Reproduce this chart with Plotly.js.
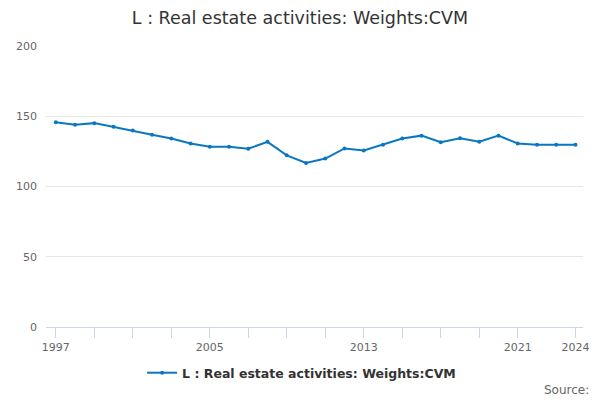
<!DOCTYPE html>
<html>
<head>
<meta charset="utf-8">
<script src="https://cdn.plot.ly/plotly-3.0.1.min.js"></script>
<style>
  html, body { margin: 0; padding: 0; background: #fff; }
  #chart { width: 600px; height: 400px; }
</style>
</head>
<body>
<div id="chart"></div>
<script>
const years = [1997, 1998, 1999, 2000, 2001, 2002, 2003, 2004, 2005, 2006,
  2007, 2008, 2009, 2010, 2011, 2012, 2013, 2014, 2015, 2016,
  2017, 2018, 2019, 2020, 2021, 2022, 2023, 2024];
const weights = [145.8, 143.9, 145.1, 142.5, 139.9, 136.9, 134.1, 130.6, 128.3, 128.3,
  126.9, 131.8, 122.2, 116.8, 119.9, 127.1, 125.7, 129.7, 134.1, 136.2,
  131.5, 134.3, 131.8, 136.2, 130.6, 129.7, 129.7, 129.7];
const tickYears = [1997, 1999, 2001, 2003, 2005, 2007, 2009, 2011, 2013,
  2015, 2017, 2019, 2021, 2024];
const labelledYears = [1997, 2005, 2013, 2021, 2024];
const seriesName = 'L : Real estate activities: Weights:CVM';

const trace = {
  x: years,
  y: weights,
  name: seriesName,
  type: 'scatter',
  mode: 'lines+markers',
  line: {color: '#0a77c2', width: 2},
  marker: {color: '#0a77c2', size: 4},
  hoverinfo: 'x+y'
};

const layout = {
  width: 600,
  height: 400,
  margin: {l: 46, r: 17, t: 46, b: 73, autoexpand: false},
  paper_bgcolor: '#fff',
  plot_bgcolor: '#fff',
  font: {family: 'DejaVu Sans, sans-serif', color: '#666', size: 11},
  title: {
    text: seriesName,
    font: {size: 17.5, color: '#333'},
    x: 0.5,
    xanchor: 'center',
    y: 0.955,
    yanchor: 'middle'
  },
  xaxis: {
    range: [1996.49, 2024.39],
    tickmode: 'array',
    tickvals: tickYears,
    ticktext: tickYears.map(y => labelledYears.includes(y) ? String(y) : ''),
    ticks: 'outside',
    ticklen: 10,
    tickcolor: '#ccd6eb',
    tickwidth: 1,
    showgrid: false,
    showline: true,
    linecolor: '#ccd6eb',
    linewidth: 1,
    zeroline: false,
    tickfont: {size: 11, color: '#666'}
  },
  yaxis: {
    range: [0, 200],
    tickvals: [0, 50, 100, 150, 200],
    showgrid: true,
    gridcolor: '#e6e6e6',
    zeroline: false,
    showline: false,
    ticks: '',
    ticklabelstandoff: 8,
    tickfont: {size: 11, color: '#666'}
  },
  showlegend: true,
  legend: {
    orientation: 'h',
    x: 0.476,
    xanchor: 'center',
    y: -0.164,
    yanchor: 'middle',
    itemwidth: 30,
    font: {size: 12.5, color: '#333', weight: 'bold'}
  },
  annotations: [{
    text: 'Source:',
    xref: 'paper',
    yref: 'paper',
    x: 1.015,
    xanchor: 'right',
    y: -0.224,
    yanchor: 'middle',
    showarrow: false,
    font: {size: 12, color: '#666'}
  }]
};

Plotly.newPlot('chart', [trace], layout, {displayModeBar: false, staticPlot: true});
</script>
</body>
</html>
